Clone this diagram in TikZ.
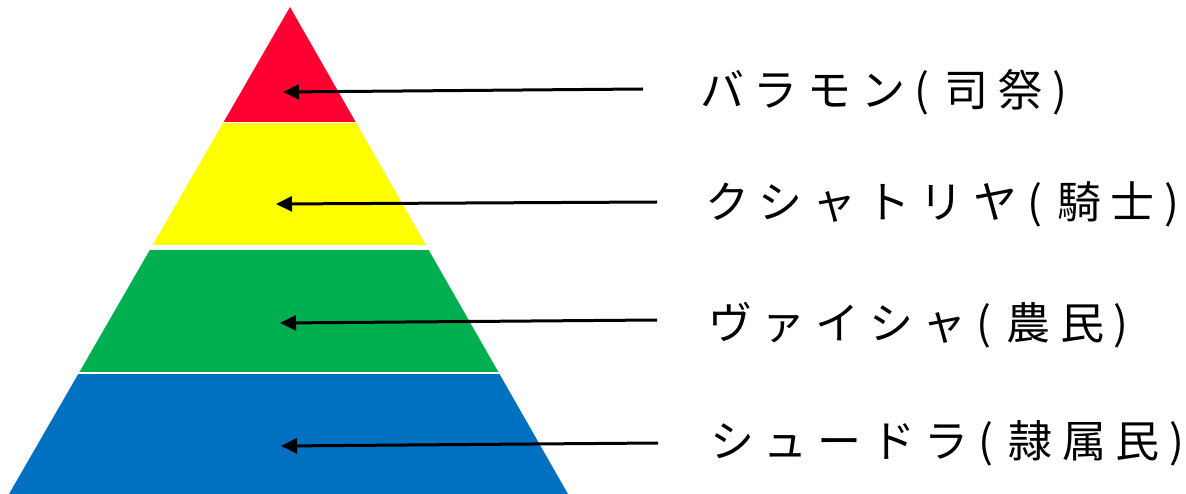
\documentclass[tikz,border=0pt]{standalone}
\usepackage{fontspec}
\newfontfamily\jpfont[LetterSpace=22]{Noto Sans CJK JP}
\usetikzlibrary{arrows.meta}
\definecolor{cred}{RGB}{255,0,51}
\definecolor{cyellow}{RGB}{255,255,0}
\definecolor{cgreen}{RGB}{0,176,80}
\definecolor{cblue}{RGB}{0,112,192}
\newcommand{\lp}{(\hspace*{15pt}}
\tikzset{
  lbl/.style={anchor=west,inner sep=0pt,font=\jpfont\fontsize{44pt}{48pt}\selectfont},
  pointer/.style={line width=3pt,-{Triangle[length=16pt,width=15pt]}}
}
\begin{document}
\begin{tikzpicture}[x=1pt,y=-1pt]
\useasboundingbox (0,0) rectangle (1186,494);
\coordinate (apex) at (290,7);
\coordinate (bl) at (9,494);
\coordinate (br) at (568,494);
\foreach \ya/\yb/\col in {0/121.7/cred,124/245/cyellow,251/371.5/cgreen,374.5/494/cblue}{
  \begin{scope}
    \clip (0,\ya) rectangle (1186,\yb);
    \fill[\col] (apex) -- (bl) -- (br) -- cycle;
  \end{scope}
}
\coordinate (s1) at (643,89);  \coordinate (t1) at (283,92);
\coordinate (s2) at (657,202); \coordinate (t2) at (276,204);
\coordinate (s3) at (657,320); \coordinate (t3) at (280,323);
\coordinate (s4) at (658,443); \coordinate (t4) at (281,446);
\draw[pointer] (s1) -- (t1);
\draw[pointer] (s2) -- (t2);
\draw[pointer] (s3) -- (t3);
\draw[pointer] (s4) -- (t4);
\node[lbl] (l1) at (700,92) {バラモン\lp 司祭)};
\node[lbl] (l2) at (705,204) {クシャトリヤ\lp 騎士)};
\node[lbl] (l3) at (708,325) {ヴァイシャ\lp 農民)};
\node[lbl] (l4) at (710,443) {シュードラ\lp 隷属民)};
\end{tikzpicture}
\end{document}
